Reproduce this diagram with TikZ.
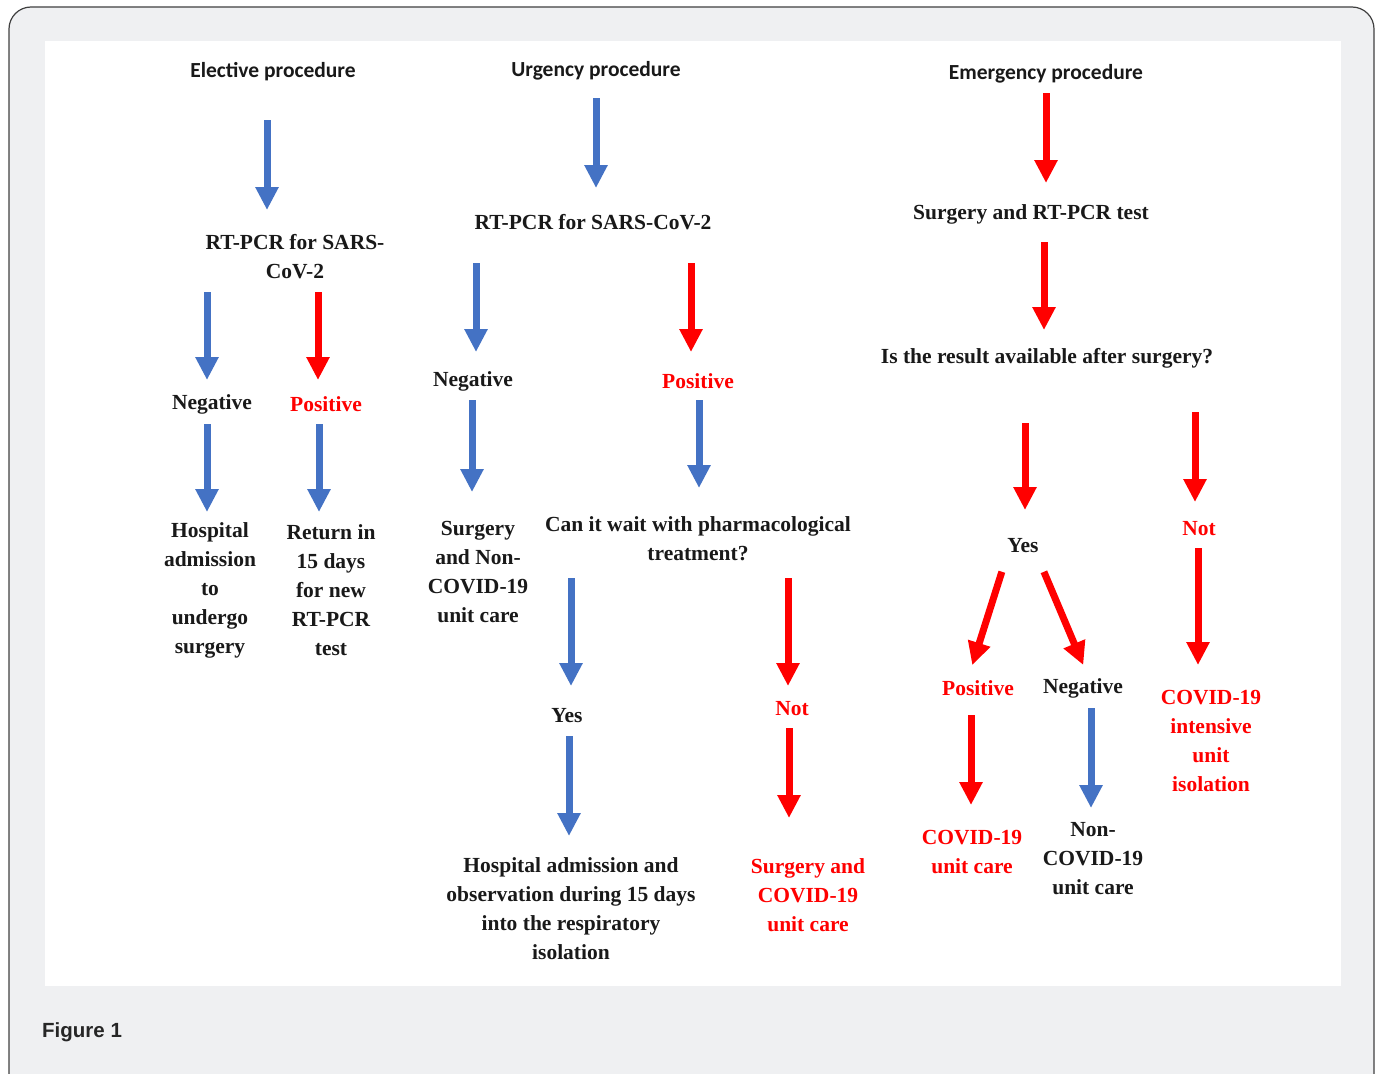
\documentclass[tikz,border=0pt]{standalone}
\usepackage{fontspec}
\setmainfont{Liberation Serif}
\newfontfamily\headfont{Carlito}
\newfontfamily\figfont{Liberation Sans}
\usetikzlibrary{arrows.meta}
\definecolor{mblue}{HTML}{4472C4}
\definecolor{mred}{HTML}{FF0000}
\definecolor{panel}{HTML}{EFF0F2}
\tikzstyle{txt}=[inner sep=0pt, align=center, text=black!90, font=\bfseries\fontsize{21.5}{29}\selectfont]
\tikzstyle{rtxt}=[txt, text=mred]
\tikzstyle{head}=[txt, font=\headfont\bfseries\fontsize{21.5}{26}\selectfont]
\tikzstyle{l1}=[line width=7pt, -{Triangle[width=22pt,length=23pt]}]
\tikzstyle{barrow}=[l1, draw=mblue]
\tikzstyle{rarrow}=[l1, draw=mred]

\begin{document}
\begin{tikzpicture}[x=1pt,y=-1pt]
    \useasboundingbox (0,0) rectangle (1380,1073);
    \draw[fill=panel, draw=black!75, line width=1.2pt, rounded corners=22pt] (9,7) rectangle (1374,1095);
    \fill[white] (45,41) rectangle (1341,986);

    % elective
    \node[head] (eproc) at (273,72) {Elective procedure};
    \node[txt]  (epcr)  at (295,257) {RT-PCR for SARS-\\CoV-2};
    \node[txt]  (eneg)  at (212,404) {Negative};
    \node[rtxt] (epos)  at (326,404) {Positive};
    \node[txt]  (ehosp) at (210,590) {Hospital\\admission\\to\\undergo\\surgery};
    \node[txt]  (eret)  at (331,590) {Return in\\15 days\\for new\\RT-PCR\\test};

    % urgency
    \node[head] (uproc)  at (596,71) {Urgency procedure};
    \node[txt]  (upcr)   at (593,222) {RT-PCR for SARS-CoV-2};
    \node[txt]  (uneg)   at (473,381) {Negative};
    \node[rtxt] (upos)   at (698,381) {Positive};
    \node[txt]  (usurg)  at (478,572) {Surgery\\and Non-\\COVID-19\\unit care};
    \node[txt]  (uwait)  at (698,539) {Can it wait with pharmacological\\treatment?};
    \node[txt]  (uyes)   at (567,716) {Yes};
    \node[rtxt] (unot)   at (792,709) {Not};
    \node[txt]  (uhosp)  at (571,909) {Hospital admission and\\observation during 15 days\\into the respiratory\\isolation};
    \node[rtxt] (ucovid) at (808,895) {Surgery and\\COVID-19\\unit care};

    % emergency
    \node[head] (mproc)  at (1046,74) {Emergency procedure};
    \node[txt]  (msurg)  at (1031,214) {Surgery and RT-PCR test};
    \node[txt]  (mres)   at (1047,358) {Is the result available after surgery?};
    \node[txt]  (myes)   at (1023,546) {Yes};
    \node[rtxt] (mnot)   at (1199,529) {Not};
    \node[rtxt] (mpos)   at (978,688) {Positive};
    \node[txt]  (mneg)   at (1083,688) {Negative};
    \node[rtxt] (mcovid) at (972,852) {COVID-19\\unit care};
    \node[txt]  (mnon)   at (1093,859) {Non-\\COVID-19\\unit care};
    \node[rtxt] (micu)   at (1211,741) {COVID-19\\intensive\\unit\\isolation};

    \draw[barrow, shorten <=48pt, shorten >=47pt] (eproc -| 267,0) -- (epcr -| 267,0);
    \draw[barrow, shorten <=35pt, shorten >=24pt] (epcr -| 207,0) -- (eneg -| 207,0);
    \draw[rarrow, shorten <=35pt, shorten >=24pt] (epcr -| 318,0) -- (epos -| 318,0);
    \draw[barrow, shorten <=20pt, shorten >=78pt] (eneg -| 207,0) -- (ehosp -| 207,0);
    \draw[barrow, shorten <=20pt, shorten >=78pt] (epos -| 319,0) -- (eret -| 319,0);

    \draw[barrow, shorten <=27pt, shorten >=34pt] (uproc -| 596,0) -- (upcr -| 596,0);
    \draw[barrow, shorten <=41pt, shorten >=29pt] (upcr -| 476,0) -- (uneg -| 476,0);
    \draw[rarrow, shorten <=41pt, shorten >=29pt] (upcr -| 691,0) -- (upos -| 691,0);
    \draw[barrow, shorten <=19pt, shorten >=80pt] (uneg -| 472,0) -- (usurg -| 472,0);
    \draw[barrow, shorten <=19pt, shorten >=51pt] (upos -| 699,0) -- (uwait -| 699,0);
    \draw[barrow, shorten <=39pt, shorten >=30pt] (uwait -| 571,0) -- (uyes -| 571,0);
    \draw[rarrow, shorten <=39pt, shorten >=23pt] (uwait -| 788,0) -- (unot -| 788,0);
    \draw[barrow, shorten <=20pt, shorten >=73pt] (uyes -| 569,0) -- (uhosp -| 569,0);
    \draw[rarrow, shorten <=19pt, shorten >=77pt] (unot -| 789,0) -- (ucovid -| 789,0);

    \draw[rarrow, shorten <=19pt, shorten >=31pt] (mproc -| 1046,0) -- (msurg -| 1046,0);
    \draw[rarrow, shorten <=28pt, shorten >=28pt] (msurg -| 1044,0) -- (mres -| 1044,0);
    \draw[rarrow, shorten <=65pt, shorten >=36pt] (mres -| 1025,0) -- (myes -| 1025,0);
    \draw[rarrow, shorten <=54pt, shorten >=27pt] (mres -| 1195,0) -- (mnot -| 1195,0);
    \draw[rarrow, shorten <=19pt, shorten >=76pt] (mnot -| 1198,0) -- (micu -| 1198,0);
    \draw[rarrow, shorten <=27pt, shorten >=24pt] ([xshift=-13pt]myes.center) -- ([xshift=-13pt]mpos.center);
    \draw[rarrow, shorten <=28pt, shorten >=25pt] ([xshift=10pt]myes.center) -- ([xshift=10pt]mneg.center);
    \draw[rarrow, shorten <=27pt, shorten >=47pt] (mpos -| 971,0) -- (mcovid -| 971,0);
    \draw[barrow, shorten <=20pt, shorten >=51pt] (mneg -| 1091,0) -- (mnon -| 1091,0);

    \node[anchor=west, inner sep=0pt, text=black!85, font=\figfont\bfseries\fontsize{20.5}{24}\selectfont] (fig) at (42,1032) {Figure 1};
\end{tikzpicture}
\end{document}
